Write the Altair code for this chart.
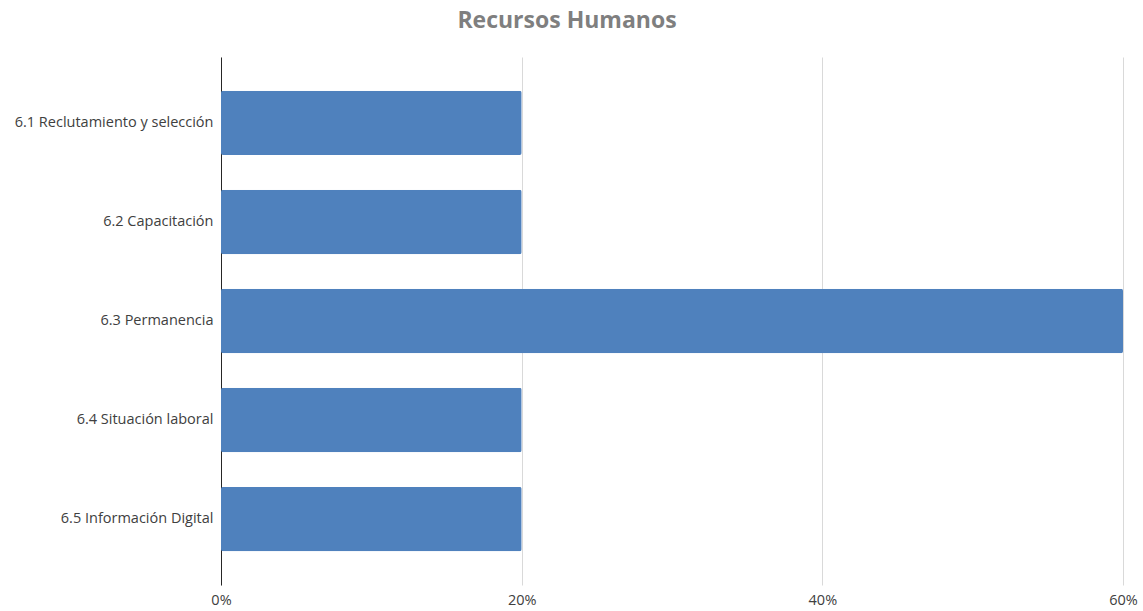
import altair as alt
import pandas as pd

categories = [
    "6.1 Reclutamiento y selección",
    "6.2 Capacitación",
    "6.3 Permanencia",
    "6.4 Situación laboral",
    "6.5 Información Digital",
]
values = [0.2, 0.2, 0.6, 0.2, 0.2]

df = pd.DataFrame({"categoria": categories, "valor": values})

FONT = "Open Sans"

chart = (
    alt.Chart(df)
    .mark_bar(color="#4F81BD", cornerRadius=2)
    .encode(
        y=alt.Y(
            "categoria:N",
            sort=categories,
            title=None,
            scale=alt.Scale(paddingInner=0.35, paddingOuter=0.34),
            axis=alt.Axis(
                domain=True,
                domainColor="#262626",
                domainWidth=1,
                ticks=False,
                grid=False,
                labelPadding=8,
                labelFont=FONT,
                labelFontSize=14.5,
                labelColor="#404040",
                labelLimit=300,
            ),
        ),
        x=alt.X(
            "valor:Q",
            title=None,
            scale=alt.Scale(domain=[0, 0.6], nice=False),
            axis=alt.Axis(
                format="%",
                values=[0, 0.2, 0.4, 0.6],
                domain=False,
                ticks=False,
                grid=True,
                gridColor="#d9d9d9",
                gridWidth=1,
                labelPadding=8,
                labelFont=FONT,
                labelFontSize=14.5,
                labelColor="#404040",
                labelFlush=False,
            ),
        ),
    )
    .properties(
        width=902,
        height=528,
        title=alt.TitleParams(
            "Recursos Humanos",
            font=FONT,
            fontSize=23,
            fontWeight="bold",
            color="#7f7f7f",
            anchor="middle",
            dx=-105,
            offset=24,
        ),
        autosize=alt.AutoSizeParams(type="none"),
        padding={"left": 221, "top": 57, "right": 20, "bottom": 26},
    )
    .configure_view(stroke=None)
)

chart.save("out.html", embed_options={"renderer": "svg", "actions": False})
